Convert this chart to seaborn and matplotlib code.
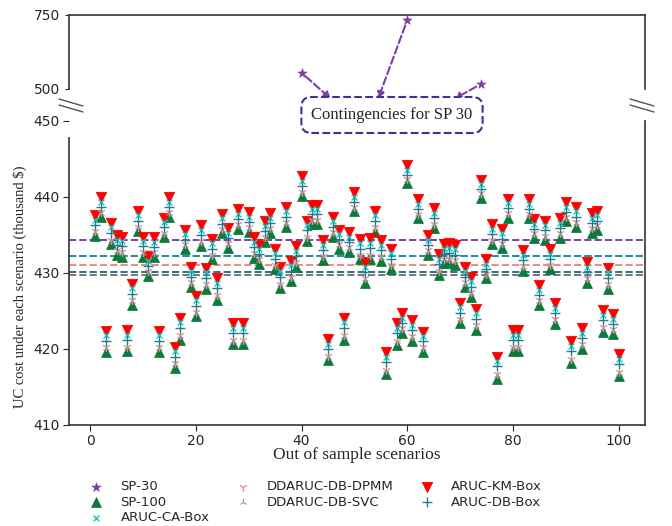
import pandas as pd
import seaborn as sns
import matplotlib.pyplot as plt
from matplotlib.lines import Line2D

# scenario index and costs (thousand $)
scenarios = list(range(1, 101))

km_box = [437.6, 440.0, 422.4, 436.6, 435.0, 434.8, 422.5, 428.6, 438.2, 434.8,
          432.2, 434.7, 422.4, 437.3, 440.0, 420.3, 424.1, 435.7, 430.8, 427.0,
          436.3, 430.7, 434.5, 429.3, 437.8, 435.9, 423.4, 438.4, 423.4, 438.0,
          434.7, 433.8, 436.8, 437.9, 433.2, 430.8, 438.7, 431.6, 433.5, 442.7,
          436.9, 439.0, 439.0, 434.3, 421.3, 437.4, 435.7, 424.1, 435.4, 440.6,
          434.5, 431.4, 434.6, 438.2, 434.3, 419.6, 433.2, 423.4, 424.7, 444.2,
          423.8, 439.7, 422.3, 435.0, 438.5, 432.5, 433.8, 433.9, 433.7, 426.1,
          430.8, 429.5, 425.3, 442.3, 431.8, 436.4, 419.0, 435.8, 439.8, 422.5,
          422.5, 433.0, 439.7, 437.1, 428.4, 436.9, 433.1, 426.0, 437.2, 439.3,
          421.0, 438.7, 422.7, 431.4, 437.9, 438.2, 425.1, 430.7, 424.6, 419.3]

ca_box = [437.0, 439.4, 421.8, 436.0, 434.4, 434.2, 421.9, 428.0, 437.6, 434.2,
          431.6, 434.1, 421.8, 436.7, 439.4, 419.7, 423.5, 435.1, 430.2, 426.4,
          435.7, 430.1, 433.9, 428.7, 437.2, 435.3, 422.8, 437.8, 422.8, 437.4,
          434.1, 433.2, 436.2, 437.3, 432.6, 430.2, 438.1, 431.0, 432.9, 442.1,
          436.3, 438.4, 438.4, 433.7, 420.7, 436.8, 435.1, 423.5, 434.8, 440.0,
          433.9, 430.8, 434.0, 437.6, 433.7, 419.0, 432.6, 422.8, 424.1, 443.6,
          423.2, 439.1, 421.7, 434.4, 437.9, 431.9, 433.2, 433.3, 433.1, 425.5,
          430.2, 428.9, 424.7, 441.7, 431.2, 435.8, 418.4, 435.2, 439.2, 421.9,
          421.9, 432.4, 439.1, 436.5, 427.8, 436.3, 432.5, 425.4, 436.6, 438.7,
          420.4, 438.1, 422.1, 430.8, 437.3, 437.6, 424.5, 430.1, 424.0, 418.7]

db_box = [436.3, 438.7, 421.1, 435.3, 433.7, 433.5, 421.2, 427.3, 436.9, 433.5,
          430.9, 433.4, 421.1, 436.0, 438.7, 419.0, 422.8, 434.4, 429.5, 425.7,
          435.0, 429.4, 433.2, 428.0, 436.5, 434.6, 422.1, 437.1, 422.1, 436.7,
          433.4, 432.5, 435.5, 436.6, 431.9, 429.5, 437.4, 430.3, 432.2, 441.4,
          435.6, 437.7, 437.7, 433.0, 420.0, 436.1, 434.4, 422.8, 434.1, 439.3,
          433.2, 430.1, 433.3, 436.9, 433.0, 418.3, 431.9, 422.1, 423.4, 442.9,
          422.5, 438.4, 421.0, 433.7, 437.2, 431.2, 432.5, 432.6, 432.4, 424.8,
          429.5, 428.2, 424.0, 441.0, 430.5, 435.1, 417.7, 434.5, 438.5, 421.2,
          421.2, 431.7, 438.4, 435.8, 427.1, 435.6, 431.8, 424.7, 435.9, 438.0,
          419.7, 437.4, 421.4, 430.1, 436.6, 436.9, 423.8, 429.4, 423.3, 418.0]

dpmm = [435.5, 438.0, 420.2, 434.4, 433.0, 432.7, 420.3, 426.4, 436.1, 432.7,
        430.2, 432.7, 420.2, 435.3, 438.0, 418.1, 421.8, 433.8, 428.8, 424.9,
        434.2, 428.5, 432.4, 427.1, 435.8, 433.9, 421.2, 436.4, 421.2, 436.0,
        432.6, 431.8, 434.7, 435.9, 431.1, 428.6, 436.7, 429.5, 431.4, 440.7,
        434.8, 437.0, 437.0, 432.3, 419.1, 435.4, 433.8, 421.8, 433.4, 438.7,
        432.4, 429.3, 432.4, 436.0, 432.2, 417.3, 431.1, 421.1, 422.7, 442.4,
        421.7, 437.8, 420.2, 433.0, 436.5, 430.3, 431.9, 431.9, 431.7, 424.0,
        428.8, 427.5, 423.1, 440.5, 429.9, 434.4, 416.7, 433.9, 437.9, 420.3,
        420.3, 430.9, 437.8, 435.2, 426.4, 434.9, 431.1, 423.9, 435.2, 437.4,
        418.7, 436.7, 420.6, 429.3, 435.9, 436.3, 422.9, 428.5, 422.6, 417.0]

svc = [435.4, 437.9, 420.1, 434.3, 432.9, 432.6, 420.2, 426.3, 436.0, 432.6,
       430.1, 432.6, 420.1, 435.2, 437.9, 418.0, 421.7, 433.7, 428.7, 424.8,
       434.1, 428.4, 432.3, 427.0, 435.7, 433.8, 421.1, 436.3, 421.1, 435.9,
       432.5, 431.7, 434.6, 435.8, 431.0, 428.5, 436.6, 429.4, 431.3, 440.6,
       434.7, 436.9, 436.9, 432.2, 419.0, 435.3, 433.7, 421.7, 433.3, 438.6,
       432.3, 429.2, 432.3, 435.9, 432.1, 417.2, 431.0, 421.0, 422.6, 442.3,
       421.6, 437.7, 420.1, 432.9, 436.4, 430.2, 431.8, 431.8, 431.6, 423.9,
       428.7, 427.4, 423.0, 440.4, 429.8, 434.3, 416.6, 433.8, 437.8, 420.2,
       420.2, 430.8, 437.7, 435.1, 426.3, 434.8, 431.0, 423.8, 435.1, 437.3,
       418.6, 436.6, 420.5, 429.2, 435.8, 436.2, 422.8, 428.4, 422.5, 416.9]

sp100 = [434.9, 437.4, 419.6, 433.8, 432.4, 432.1, 419.7, 425.8, 435.5, 432.1,
         429.6, 432.1, 419.6, 434.7, 437.4, 417.5, 421.2, 433.2, 428.2, 424.3,
         433.6, 427.9, 431.8, 426.5, 435.2, 433.3, 420.6, 435.8, 420.6, 435.4,
         432.0, 431.2, 434.1, 435.3, 430.5, 428.0, 436.1, 428.9, 430.8, 440.1,
         434.2, 436.4, 436.4, 431.7, 418.5, 434.8, 433.2, 421.2, 432.8, 438.1,
         431.8, 428.7, 431.8, 435.4, 431.6, 416.7, 430.5, 420.5, 422.1, 441.8,
         421.1, 437.2, 419.6, 432.4, 435.9, 429.7, 431.3, 431.3, 431.1, 423.4,
         428.2, 426.9, 422.5, 439.9, 429.3, 433.8, 416.1, 433.3, 437.3, 419.7,
         419.7, 430.3, 437.2, 434.6, 425.8, 434.3, 430.5, 423.3, 434.6, 436.8,
         418.1, 436.1, 420.0, 428.7, 435.3, 435.7, 422.3, 427.9, 422.0, 416.4]

# SP-30 contingency scenarios (upper panel)
sp30_x = [40, 60, 74]
sp30_y = [555, 732, 517]

# average cost lines
avg_values = [434.3, 432.3, 432.2, 431.1, 430.1, 429.8]
avg_colors = ["#7b3fa8", "#16c6c0", "#2a8c9c", "#f08a80", "#2c6f8e", "#777777"]

df = pd.DataFrame({"scenario": scenarios, "km": km_box, "ca": ca_box, "db": db_box,
                   "dpmm": dpmm, "svc": svc, "sp100": sp100})
df30 = pd.DataFrame({"scenario": sp30_x, "cost": sp30_y})

purple = "#7b3fa8"

sns.set_style("ticks")
plt.rcParams["font.family"] = ["DejaVu Sans"]

fig = plt.figure(figsize=(6.72, 5.26), dpi=100)
ax_top = fig.add_axes([69 / 672, 1 - 89 / 526, 576 / 672, 74 / 526])
ax = fig.add_axes([69 / 672, 1 - 425 / 526, 576 / 672, 304 / 526])

# mean lines
for v, c in zip(avg_values, avg_colors):
    ax.axhline(v, color=c, linestyle="--", linewidth=1.4, zorder=1)

# scatter series
sns.scatterplot(data=df, x="scenario", y="sp100", marker="^", color="#0b7a3b",
                edgecolor="#0b7a3b", s=50, ax=ax, label="SP-100", zorder=3)
sns.scatterplot(data=df, x="scenario", y="dpmm", marker="1", color="#f28c8c",
                s=40, linewidth=1.0, ax=ax, label="DDARUC-DB-DPMM", zorder=4)
sns.scatterplot(data=df, x="scenario", y="svc", marker="2", color="#999999",
                s=30, linewidth=0.8, ax=ax, label="DDARUC-DB-SVC", zorder=4)
sns.scatterplot(data=df, x="scenario", y="km", marker="v", color="#ff0000",
                edgecolor="#ff0000", s=55, ax=ax, label="ARUC-KM-Box", zorder=3)
sns.scatterplot(data=df, x="scenario", y="ca", marker="x", color="#1cc7c2",
                s=18, linewidth=1.0, ax=ax, label="ARUC-CA-Box", zorder=4)
sns.scatterplot(data=df, x="scenario", y="db", marker="+", color="#1f7f8e",
                s=50, linewidth=1.0, ax=ax, label="ARUC-DB-Box", zorder=4)
sns.scatterplot(data=df30, x="scenario", y="cost", marker="*", color=purple,
                edgecolor=purple, s=45, ax=ax_top, label="SP-30", zorder=3)

for a in (ax, ax_top):
    if a.get_legend() is not None:
        a.get_legend().remove()
    a.set_xlim(-4, 105)
    a.set_xlabel("")
    a.set_ylabel("")
    for sp in a.spines.values():
        sp.set_color("#333333")
        sp.set_linewidth(1.2)

ax.set_ylim(410, 450)
ax.set_yticks([410, 420, 430, 440, 450])
ax.set_xticks([0, 20, 40, 60, 80, 100])
ax.spines["top"].set_visible(False)
ax.spines["left"].set_bounds(410, 447.8)
ax.tick_params(labelsize=10, length=4, pad=2.5)

ax_top.set_ylim(500, 750)
ax_top.set_yticks([500, 750])
ax_top.set_xticks([])
ax_top.spines["bottom"].set_visible(False)
ax_top.tick_params(labelsize=10, length=3)

# axis labels
fig.text(0.5 * (69 + 645) / 672, 1 - 455 / 526, "Out of sample scenarios",
         family="Liberation Serif", fontsize=12.5, ha="center", va="center")
fig.text(20 / 672, 1 - 287 / 526, "UC cost under each scenario (thousand $)",
         family="Liberation Serif", fontsize=10.5, rotation=90, ha="center", va="center")

# contingencies box and arrows
fig.text(392 / 672, 1 - 115 / 526, "Contingencies for SP 30", family="Liberation Serif",
         fontsize=12, ha="center", va="center", zorder=10,
         bbox=dict(boxstyle="round,pad=0.6", facecolor="white", edgecolor="#4b2a9a",
                   linestyle="--", linewidth=1.5))
for sx, sy, bx in zip(sp30_x, sp30_y, [331, 378, 454]):
    ax_top.annotate("", xy=(bx / 672, 1 - 99 / 526), xycoords="figure fraction",
                    xytext=(sx, sy), textcoords="data", annotation_clip=False,
                    arrowprops=dict(arrowstyle="-|>,head_length=0.4,head_width=0.2",
                                    color=purple, linestyle="--", linewidth=1.5,
                                    shrinkA=4, shrinkB=0))

# axis break marks
for x0 in (59, 630):
    for dy in (0, 6):
        fig.add_artist(Line2D([x0 / 672, (x0 + 24) / 672],
                              [1 - (99 + dy) / 526, 1 - (106 + dy) / 526],
                              color="#555555", linewidth=1.0))

# legend
handles, labels = [], []
for a in (ax_top, ax):
    h, l = a.get_legend_handles_labels()
    handles += h
    labels += l
lookup = dict(zip(labels, handles))
order = ["SP-30", "SP-100", "ARUC-CA-Box", "DDARUC-DB-DPMM", "DDARUC-DB-SVC",
         "ARUC-KM-Box", "ARUC-DB-Box"]
fig.legend([lookup[k] for k in order], order, loc="upper left", ncol=3,
           bbox_to_anchor=(83 / 672, 1 - 480 / 526), frameon=False, fontsize=9.5,
           labelspacing=0.2, columnspacing=1.5, handletextpad=0.85,
           borderaxespad=0, borderpad=0)

fig.savefig("out.png", dpi=100)
